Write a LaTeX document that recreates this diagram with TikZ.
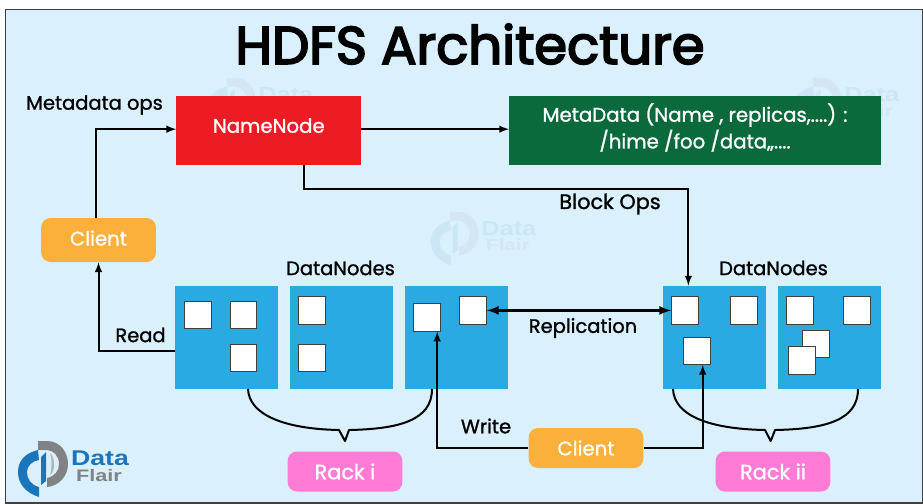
\documentclass[tikz,border=0pt]{standalone}
\usepackage{fontspec}
\setmainfont{Poppins}[FakeBold=1.2]
\newfontfamily\titlefont{Poppins}[FakeBold=3.5]
\newfontfamily\logofont{Liberation Sans}
\usetikzlibrary{arrows}
\definecolor{panelbg}{HTML}{DAF1FD}
\definecolor{namered}{HTML}{ED1C24}
\definecolor{metagreen}{HTML}{0A6A3B}
\definecolor{rackblue}{HTML}{29ABE2}
\definecolor{clientorange}{HTML}{FBB03B}
\definecolor{rackpink}{HTML}{FF7BD5}
\definecolor{logoblue}{HTML}{1B75BB}
\definecolor{logogrey}{HTML}{808285}
\definecolor{markpale}{HTML}{CBE6F5}
\definecolor{markgrey}{HTML}{D3E6F1}
\newcommand{\logomark}[5]{
    \begin{scope}[shift={(#1,#2)},scale=#3]
        \fill[#4] (21,9) .. controls (8,12) and (1,20) .. (1,31) .. controls (1,43) and (9,52) .. (22,56) -- (22,46) .. controls (14,44) and (10,38) .. (10,31) .. controls (10,25) and (15,20) .. (22,19) -- cycle;
        \fill[#4] (24,16) -- (29,11) -- (29,40) -- (24,44) -- cycle;
        \fill[#5] (21,0) -- (30,0) .. controls (43,0) and (51,11) .. (51,23) .. controls (51,35) and (42,45) .. (30,46) -- (30,37) .. controls (38,35) and (42,30) .. (42,23) .. controls (42,15) and (37,9) .. (28,9) -- (21,9) -- cycle;
        \fill[#5!60!white] (33,12) .. controls (38,16) and (39,30) .. (33,34) .. controls (35,27) and (35,18) .. (33,12) -- cycle;
        \node[text=#4, font=\logofont\bfseries\fontsize{16}{16}\selectfont, xscale=1.25, transform shape] at (83,17) {Data};
        \node[text=#5, font=\logofont\bfseries\fontsize{12.5}{12.5}\selectfont, xscale=1.3, transform shape] at (82,35) {Flair};
    \end{scope}
}

\begin{document}
\begin{tikzpicture}[x=0.75pt, y=-0.75pt,
        boxlabel/.style = {text = white, font = \fontsize{14.8}{20}\selectfont, align = center, inner sep = 0},
        tag/.style = {boxlabel, rounded corners = 7pt, minimum height = 30pt},
        clientbox/.style = {tag, fill = clientorange, minimum width = 86pt},
        rackbox/.style = {tag, fill = rackpink, minimum width = 86pt, font = \fontsize{15.6}{20}\selectfont},
        block/.style = {fill = rackblue, minimum width = 77.5pt, minimum height = 77.5pt, inner sep = 0},
        replica/.style = {draw = black!75, fill = white, line width = 0.6pt, minimum width = 20pt, minimum height = 20.5pt, inner sep = 0},
        caption/.style = {font = \fontsize{14.6}{16}\selectfont, inner sep = 0},
        conn/.style = {line width = 1.5pt, -latex},
        brace/.style = {line width = 1.5pt, line join = round}]
    \useasboundingbox (0,0) rectangle (923,503);
    \draw[fill = panelbg, draw = black!75, line width = 0.8pt] (5.5,503) -- (5.5,9.5) -- (923,9.5) -- (923,503) -- cycle;

    \logomark{207}{78}{0.95}{markpale}{markgrey}
    \logomark{793}{78}{0.95}{markpale}{markgrey}
    \logomark{430}{212}{0.95}{markpale}{markgrey}
    \logomark{17}{441}{1}{logoblue}{logogrey}

    \node[font = \titlefont\fontsize{39.6}{39}\selectfont, inner sep = 0] (title) at (470,44) {HDFS Architecture};

    \node[boxlabel, fill = namered, minimum width = 138.5pt, minimum height = 52pt, text depth = 7.5pt] (namenode) at (268.75,130.5) {NameNode};
    \node[boxlabel, fill = metagreen, minimum width = 278.5pt, minimum height = 52pt, text depth = 7pt] (metadata) at (695,130.5) {MetaData (Name , replicas,....) :\\/hime /foo /data,,....};

    \node[clientbox, minimum height = 33pt, text depth = 3pt] (clienta) at (98.5,240) {Client};
    \node[clientbox] (clientb) at (586,448) {Client};
    \node[rackbox] (racka) at (345,471.5) {Rack i};
    \node[rackbox] (rackb) at (773,471.5) {Rack ii};

    \node[block] (blocka) at (226.75,337.5) {};
    \node[block] (blockb) at (341.5,337.5) {};
    \node[block] (blockc) at (456.5,337.5) {};
    \node[block] (blockd) at (714.5,337.5) {};
    \node[block] (blocke) at (829.25,337.5) {};

    \node[replica] (sqa) at (197.8,315.2) {};
    \node[replica] (sqb) at (243.5,315.2) {};
    \node[replica] (sqc) at (243.5,357.7) {};
    \node[replica] (sqd) at (312.2,310.4) {};
    \node[replica] (sqe) at (312.2,357.7) {};
    \node[replica] (sqf) at (427.2,317.5) {};
    \node[replica] (sqg) at (473.2,310.4) {};
    \node[replica] (sqh) at (684.8,310.4) {};
    \node[replica] (sqi) at (743.7,310.4) {};
    \node[replica] (sqj) at (696.7,350.7) {};
    \node[replica] (sqk) at (799.7,310.4) {};
    \node[replica] (sql) at (857.2,310.4) {};
    \node[replica] (sqm) at (816.2,343.7) {};
    \node[replica] (sqn) at (802,360.4) {};

    \node[caption] (opslabel) at (94.5,105) {Metadata ops};
    \node[caption, font = \fontsize{15.6}{16}\selectfont] (blocklabel) at (610,204) {Block Ops};
    \node[caption] (dataa) at (340.5,268) {DataNodes};
    \node[caption] (datab) at (773.5,268) {DataNodes};
    \node[caption] (readlabel) at (140.5,335) {Read};
    \node[caption] (repllabel) at (583,328) {Replication};
    \node[caption] (writelabel) at (486,426) {Write};

    \draw[conn] ([xshift = -2pt]clienta.north) |- ([yshift = 1pt]namenode.west);
    \draw[conn] ([yshift = 1pt]namenode.east) -- ([yshift = 1pt]metadata.west);
    \draw[conn] ([xshift = 26.8pt]namenode.south) -- ++(0,23.5) -| ([xshift = -19.6pt]blockd.north);
    \draw[conn] ([yshift = -10pt]blocka.west) -| (clienta.south);
    \draw[latex-latex, line width = 2pt] (sqg.east |- sqh.west) -- (sqh.west);
    \draw[conn] (clientb.west) -| ([xshift = 7.5pt]sqf.south);
    \draw[conn] (clientb.east) -| ([xshift = 4.5pt]sqj.south);

    \draw[brace] (248,389) .. controls (249,415) and (285,429) .. (339,430) -- (345,441) -- (349,430) .. controls (400,429) and (432,420) .. (432,389);
    \draw[brace] (673,389) .. controls (674,415) and (708,429) .. (765,430) -- (770.7,441) -- (775,430) .. controls (826,429) and (858,420) .. (858,389);
\end{tikzpicture}
\end{document}
